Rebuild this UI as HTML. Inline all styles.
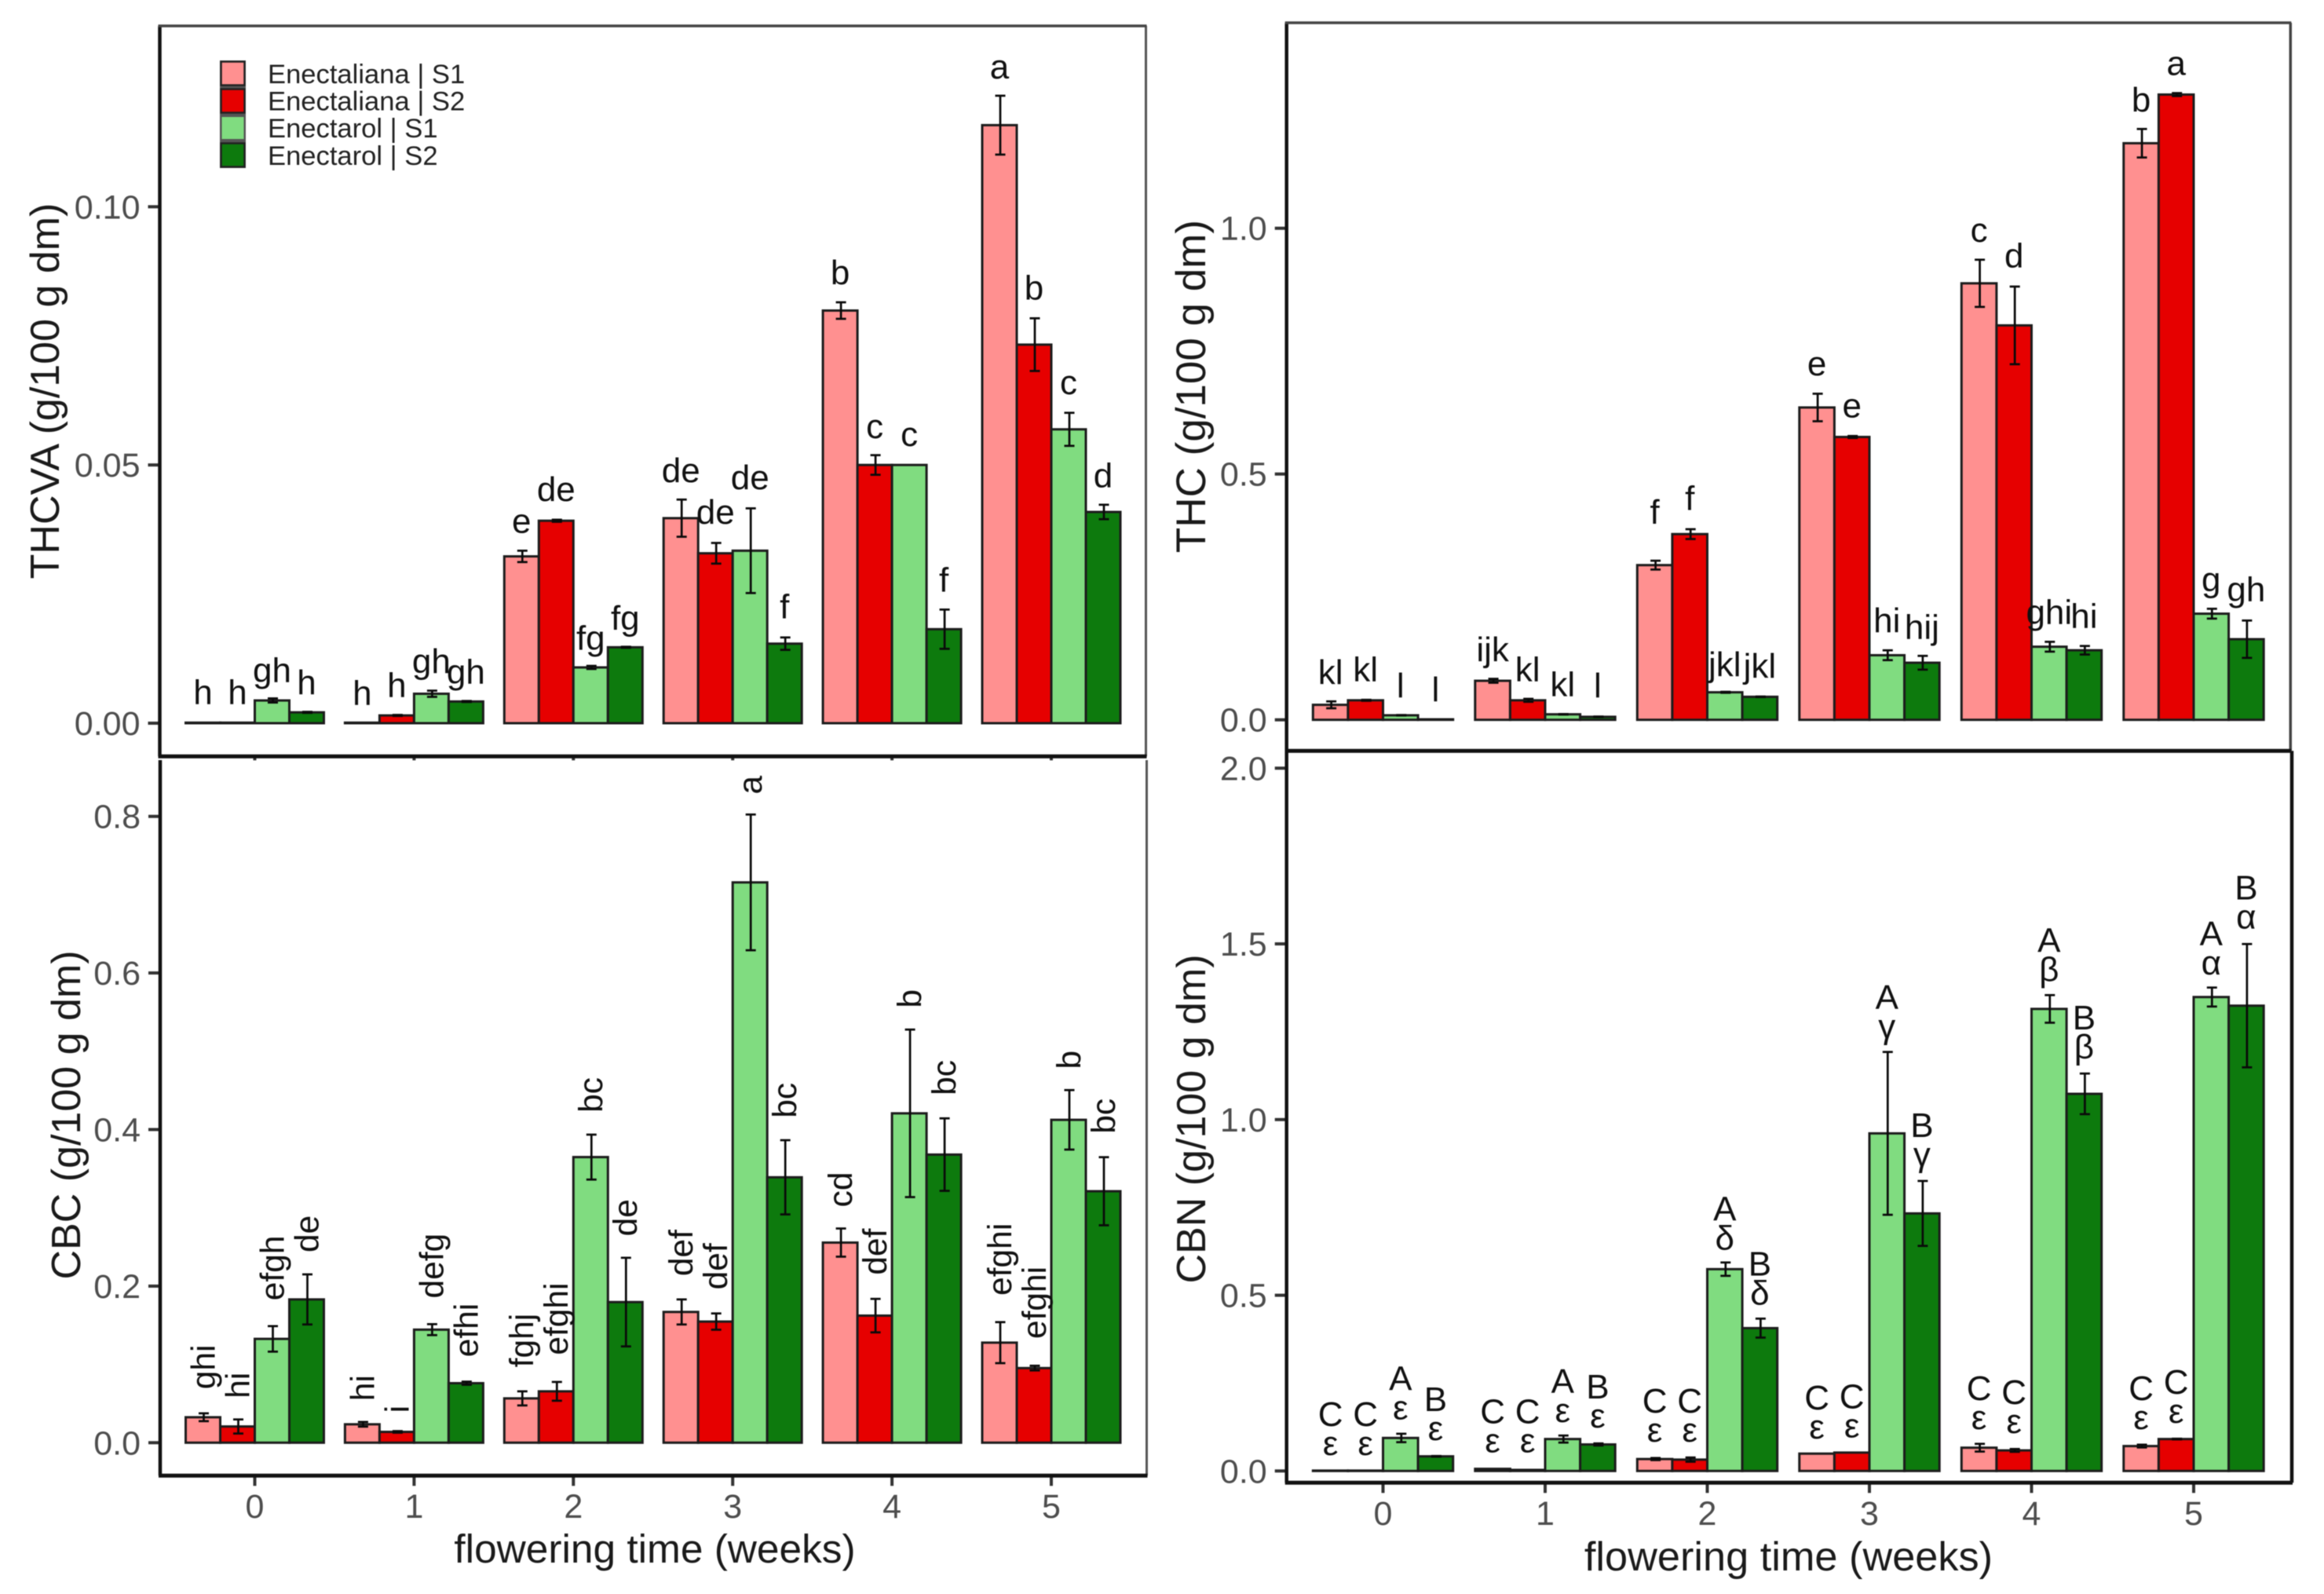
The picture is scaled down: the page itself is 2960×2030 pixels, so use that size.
<!DOCTYPE html>
<html lang="en">
<head>
<meta charset="utf-8">
<title>Cannabinoid content over flowering time</title>
<style>
  html, body { margin: 0; padding: 0; background: #fff; }
  svg { display: block; filter: blur(0.6px); font-family: "Liberation Sans", Arial, sans-serif; }
</style>
</head>
<body>
<svg id="figure" xmlns="http://www.w3.org/2000/svg" width="2960" height="2030" viewBox="0 0 2960 2030">
  <rect x="0" y="0" width="2960" height="2030" fill="#ffffff"/>

  <text x="75" y="498" transform="rotate(-90 75 498)" text-anchor="middle" font-size="52" fill="#1a1a1a">THCVA (g/100 g dm)</text>
  <text x="102" y="1420" transform="rotate(-90 102 1420)" text-anchor="middle" font-size="52" fill="#1a1a1a">CBC (g/100 g dm)</text>
  <text x="1535" y="492" transform="rotate(-90 1535 492)" text-anchor="middle" font-size="53" fill="#1a1a1a">THC (g/100 g dm)</text>
  <text x="1535" y="1425" transform="rotate(-90 1535 1425)" text-anchor="middle" font-size="52" fill="#1a1a1a">CBN (g/100 g dm)</text>
  <text x="834" y="1990" text-anchor="middle" font-size="51.4" fill="#1a1a1a">flowering time (weeks)</text>
  <text x="2278" y="2000" text-anchor="middle" font-size="52.3" fill="#1a1a1a">flowering time (weeks)</text>

  <g id="panels"></g>

  <g>
    <rect x="280" y="77" width="33" height="137" fill="#555555"/>
    <g>
      <rect x="281.5" y="78.5" width="30" height="30" fill="#ff9090" stroke="#222" stroke-width="2.5"/>
      <text x="341" y="106" font-size="34.6" fill="#222">Enectaliana | S1</text>
    </g>
    <g>
      <rect x="281.5" y="113.5" width="30" height="30" fill="#e60000" stroke="#222" stroke-width="2.5"/>
      <text x="341" y="140.7" font-size="34.6" fill="#222">Enectaliana | S2</text>
    </g>
    <g>
      <rect x="281.5" y="148" width="30" height="30" fill="#80dc80" stroke="#555" stroke-width="2"/>
      <text x="341" y="175" font-size="34.6" fill="#222">Enectarol | S1</text>
    </g>
    <g>
      <rect x="281.5" y="182.5" width="30" height="30" fill="#0d7a0d" stroke="#222" stroke-width="2.5"/>
      <text x="341" y="210" font-size="34.6" fill="#222">Enectarol | S2</text>
    </g>
  </g>
</svg>

<script>
// Shared categories
const weeks = [0, 1, 2, 3, 4, 5];
const seriesNames = ['enectaliana-s1', 'enectaliana-s2', 'enectarol-s1', 'enectarol-s2'];
const seriesColors = ['#ff9090', '#e60000', '#80dc80', '#0d7a0d'];

// THCVA: each row is one week, columns follow seriesNames
const thcvaTicks = [0, 0.05, 0.10];
const thcvaTickLabels = ['0.00', '0.05', '0.10'];
const thcvaValues = [
  [0.0001, 0.0001, 0.0044, 0.0021],
  [0.0001, 0.0015, 0.0057, 0.0042],
  [0.0323, 0.0392, 0.0108, 0.0147],
  [0.0397, 0.0329, 0.0334, 0.0154],
  [0.0799, 0.0500, 0.0500, 0.0182],
  [0.1158, 0.0733, 0.0569, 0.0409]
];
const thcvaErrors = [
  [0, 0, 0.0004, 0.0001],
  [0, 0.0001, 0.0006, 0.0001],
  [0.0011, 0.0002, 0.0003, 0.0001],
  [0.0036, 0.0020, 0.0082, 0.0012],
  [0.0016, 0.0019, 0, 0.0038],
  [0.0057, 0.0051, 0.0032, 0.0014]
];
const thcvaLetters = [
  ['h', 'h', 'gh', 'h'],
  ['h', 'h', 'gh', 'gh'],
  ['e', 'de', 'fg', 'fg'],
  ['de', 'de', 'de', 'f'],
  ['b', 'c', 'c', 'f'],
  ['a', 'b', 'c', 'd']
];
const thcvaLetterHeights = [
  [0.0037, 0.0037, 0.0080, 0.0056],
  [0.0036, 0.0051, 0.0097, 0.0077],
  [0.0369, 0.0430, 0.0142, 0.0181],
  [0.0467, 0.0386, 0.0453, 0.0203],
  [0.0850, 0.0552, 0.0537, 0.0255],
  [0.1248, 0.0820, 0.0637, 0.0457]
];

// CBC
const cbcTicks = [0, 0.2, 0.4, 0.6, 0.8];
const cbcTickLabels = ['0.0', '0.2', '0.4', '0.6', '0.8'];
const cbcValues = [
  [0.0325, 0.0207, 0.1326, 0.1830],
  [0.0235, 0.0138, 0.1444, 0.0760],
  [0.0566, 0.0656, 0.3648, 0.1796],
  [0.1670, 0.1547, 0.7157, 0.3390],
  [0.2556, 0.1623, 0.4207, 0.3680],
  [0.1278, 0.0953, 0.4124, 0.3212]
];
const cbcErrors = [
  [0.0050, 0.0090, 0.0163, 0.0320],
  [0.0030, 0.0010, 0.0070, 0.0020],
  [0.0090, 0.0120, 0.0287, 0.0566],
  [0.0160, 0.0104, 0.0867, 0.0474],
  [0.0180, 0.0214, 0.1070, 0.0463],
  [0.0262, 0.0030, 0.0380, 0.0435]
];
const cbcLetters = [
  ['ghi', 'hi', 'efgh', 'de'],
  ['hi', 'i', 'defg', 'efhi'],
  ['fghj', 'efghi', 'bc', 'de'],
  ['def', 'def', 'a', 'bc'],
  ['cd', 'def', 'b', 'bc'],
  ['efghi', 'efghi', 'b', 'bc']
];
const cbcLetterHeights = [
  [0.0967, 0.0732, 0.2231, 0.2667],
  [0.0698, 0.0428, 0.2259, 0.1437],
  [0.1306, 0.1582, 0.4442, 0.2874],
  [0.2425, 0.2252, 0.8401, 0.4373],
  [0.3233, 0.2439, 0.5672, 0.4663],
  [0.2342, 0.1789, 0.4891, 0.4173]
];

// THC
const thcTicks = [0, 0.5, 1.0];
const thcTickLabels = ['0.0', '0.5', '1.0'];
const thcValues = [
  [0.0305, 0.0397, 0.0092, 0.0010],
  [0.0794, 0.0397, 0.0112, 0.0061],
  [0.3147, 0.3778, 0.0560, 0.0468],
  [0.6354, 0.5754, 0.1314, 0.1161],
  [0.8880, 0.8024, 0.1487, 0.1415],
  [1.1730, 1.2720, 0.2159, 0.1640]
];
const thcErrors = [
  [0.0070, 0.0010, 0.0005, 0],
  [0.0040, 0.0030, 0.0005, 0.0005],
  [0.0090, 0.0100, 0.0010, 0.0005],
  [0.0280, 0.0020, 0.0100, 0.0140],
  [0.0480, 0.0790, 0.0100, 0.0087],
  [0.0290, 0.0030, 0.0100, 0.0380]
];
const thcLetters = [
  ['kl', 'kl', 'l', 'l'],
  ['ijk', 'kl', 'kl', 'l'],
  ['f', 'f', 'jkl', 'jkl'],
  ['e', 'e', 'hi', 'hij'],
  ['c', 'd', 'ghi', 'hi'],
  ['b', 'a', 'g', 'gh']
];
const thcLetterHeights = [
  [0.0733, 0.0784, 0.0458, 0.0377],
  [0.1191, 0.0784, 0.0479, 0.0458],
  [0.3992, 0.4267, 0.0886, 0.0855],
  [0.7006, 0.6151, 0.1782, 0.1650],
  [0.9725, 0.9206, 0.1955, 0.1874],
  [1.2373, 1.3116, 0.2617, 0.2413]
];

// CBN
const cbnTicks = [0, 0.5, 1.0, 1.5, 2.0];
const cbnTickLabels = ['0.0', '0.5', '1.0', '1.5', '2.0'];
const cbnValues = [
  [0.0010, 0.0010, 0.0939, 0.0416],
  [0.0060, 0.0030, 0.0908, 0.0754],
  [0.0339, 0.0323, 0.5743, 0.4065],
  [0.0493, 0.0523, 0.9607, 0.7329],
  [0.0662, 0.0585, 1.3149, 1.0732],
  [0.0708, 0.0908, 1.3487, 1.3241]
];
const cbnErrors = [
  [0, 0, 0.0120, 0.0010],
  [0, 0, 0.0100, 0.0030],
  [0.0030, 0.0060, 0.0190, 0.0270],
  [0, 0, 0.2317, 0.0924],
  [0.0110, 0.0040, 0.0393, 0.0578],
  [0.0040, 0.0010, 0.0270, 0.1755]
];
const cbnLetters = [
  ['C', 'C', 'A', 'B'],
  ['C', 'C', 'A', 'B'],
  ['C', 'C', 'A', 'B'],
  ['C', 'C', 'A', 'B'],
  ['C', 'C', 'A', 'B'],
  ['C', 'C', 'A', 'B']
];
const cbnGreekLetters = [
  ['ε', 'ε', 'ε', 'ε'],
  ['ε', 'ε', 'ε', 'ε'],
  ['ε', 'ε', 'δ', 'δ'],
  ['ε', 'ε', 'γ', 'γ'],
  ['ε', 'ε', 'β', 'β'],
  ['ε', 'ε', 'α', 'α']
];
const cbnLetterHeights = [
  [0.1278, 0.1278, 0.2294, 0.1709],
  [0.1355, 0.1355, 0.2217, 0.2062],
  [0.1663, 0.1663, 0.7129, 0.5558],
  [0.1755, 0.1786, 1.3148, 0.9500],
  [0.2017, 0.1909, 1.4765, 1.2563],
  [0.2017, 0.2202, 1.4951, 1.6259]
];

const SVG_NS = 'http://www.w3.org/2000/svg';
const root = document.getElementById('panels');

function make(tag, attrs, parent) {
  const el = document.createElementNS(SVG_NS, tag);
  for (const k in attrs) el.setAttribute(k, attrs[k]);
  parent.appendChild(el);
  return el;
}

function drawPanel(p) {
  const yScale = v => p.zeroY - v * p.pxPerUnit;
  const xTick = w => p.firstTick + w * p.pitch;
  const barLeft = (w, s) => xTick(w) - 2 * p.barW + s * p.barW;
  const barCenter = (w, s) => barLeft(w, s) + p.barW / 2;

  const g = make('g', {}, root);
  
  

  p.ticks.forEach((t, i) => {
    const tick = make('line', { x1: p.left - 15, x2: p.left, y1: yScale(t), y2: yScale(t), stroke: '#333', 'stroke-width': 4 }, g);
    
    
    const lab = make('text', { x: p.left - 25, y: yScale(t) + 15, 'text-anchor': 'end', 'font-size': 43, fill: '#4d4d4d' }, g);
    
    
    lab.textContent = p.tickLabels[i];
  });

  weeks.forEach((wk, w) => {
    const tick = make('line', { x1: xTick(w), x2: xTick(w), y1: p.bottom, y2: p.bottom + p.xTickLen, stroke: '#333', 'stroke-width': 4 }, g);
    
    
    if (p.showXLabels) {
      const lab = make('text', { x: xTick(w), y: p.xLabelY, 'text-anchor': 'middle', 'font-size': 43, fill: '#4d4d4d' }, g);
      
      
      lab.textContent = String(wk);
    }
  });

  p.values.forEach((row, w) => {
    row.forEach((v, s) => {
      const bar = make('rect', {
        x: barLeft(w, s), y: yScale(v), width: p.barW, height: Math.max(0, yScale(0) - yScale(v)),
        fill: seriesColors[s], stroke: '#1c1c1c', 'stroke-width': 3
      }, g);
      
      
    });
  });

  p.values.forEach((row, w) => {
    row.forEach((v, s) => {
      const e = p.errors[w][s];
      if (e <= 0) return;
      const cx = barCenter(w, s) + 1;
      const eg = make('g', { stroke: '#0a0a0a', 'stroke-width': 2.7, fill: 'none' }, g);
      
      
      make('line', { x1: cx, x2: cx, y1: yScale(v + e), y2: yScale(v - e) }, eg);
      make('line', { x1: cx - 6.5, x2: cx + 6.5, y1: yScale(v + e), y2: yScale(v + e) }, eg);
      make('line', { x1: cx - 6.5, x2: cx + 6.5, y1: yScale(v - e), y2: yScale(v - e) }, eg);
    });
  });

  p.letters.forEach((row, w) => {
    row.forEach((txt, s) => {
      const cx = barCenter(w, s);
      const y = yScale(p.letterHeights[w][s]);
      const attrs = p.rotateLetters
        ? { x: cx, y: y, dy: '0.35em', transform: 'rotate(-90 ' + cx + ' ' + y + ')', 'text-anchor': 'middle', 'font-size': 42.5, fill: '#111' }
        : { x: cx, y: y, 'text-anchor': 'middle', 'font-size': 44, fill: '#111' };
      const t = make('text', attrs, g);
      
      
      t.textContent = txt;
      if (p.greek) {
        const gt = make('text', { x: cx, y: y + 37, 'text-anchor': 'middle', 'font-size': 44, fill: '#111' }, g);
        
        
        gt.textContent = p.greek[w][s];
      }
    });
  });

  const frame = [
    ['left', p.left, p.top, p.left, p.bottom, '#111', 4.5],
    ['right', p.right, p.top, p.right, p.bottom, p.rightColor, p.rightWidth],
    ['bottom', p.left - 2, p.bottom, p.right + 1, p.bottom, p.bottomColor, p.bottomWidth]
  ];
  if (p.topWidth > 0) frame.push(['top', p.left - 2, p.top, p.right + 1, p.top, p.topColor, p.topWidth]);
  frame.forEach(f => {
    const line = make('line', { x1: f[1], y1: f[2], x2: f[3], y2: f[4], stroke: f[5], 'stroke-width': f[6] }, g);
    
    
  });
}

drawPanel({
  id: 'thcva', ticks: thcvaTicks, tickLabels: thcvaTickLabels, values: thcvaValues, errors: thcvaErrors,
  letters: thcvaLetters, letterHeights: thcvaLetterHeights,
  zeroY: 921, pxPerUnit: 6577, firstTick: 324.5, pitch: 202.9, barW: 44,
  left: 203.5, right: 1459.5, top: 33, bottom: 963.3, xTickLen: 5, showXLabels: false,
  topColor: '#444', topWidth: 3.5, rightColor: '#555', rightWidth: 3, bottomColor: '#111', bottomWidth: 5
});
drawPanel({
  id: 'cbc', ticks: cbcTicks, tickLabels: cbcTickLabels, values: cbcValues, errors: cbcErrors,
  letters: cbcLetters, letterHeights: cbcLetterHeights, rotateLetters: true,
  zeroY: 1837.3, pxPerUnit: 997, firstTick: 324.5, pitch: 202.9, barW: 44,
  left: 204, right: 1460.5, top: 968, bottom: 1879.3, xTickLen: 13, xLabelY: 1933, showXLabels: true,
  topWidth: 0, rightColor: '#555', rightWidth: 3, bottomColor: '#111', bottomWidth: 5
});
drawPanel({
  id: 'thc', ticks: thcTicks, tickLabels: thcTickLabels, values: thcValues, errors: thcErrors,
  letters: thcLetters, letterHeights: thcLetterHeights,
  zeroY: 916.7, pxPerUnit: 626, firstTick: 1761.5, pitch: 206.5, barW: 44.6,
  left: 1638.7, right: 2917.3, top: 29, bottom: 956.3, xTickLen: 0, showXLabels: false,
  topColor: '#444', topWidth: 3.5, rightColor: '#444', rightWidth: 3.5, bottomColor: '#111', bottomWidth: 5
});
drawPanel({
  id: 'cbn', ticks: cbnTicks, tickLabels: cbnTickLabels, values: cbnValues, errors: cbnErrors,
  letters: cbnLetters, letterHeights: cbnLetterHeights, greek: cbnGreekLetters,
  zeroY: 1873.3, pxPerUnit: 447.5, firstTick: 1761.5, pitch: 206.5, barW: 44.6,
  left: 1638.7, right: 2919, top: 956.3, bottom: 1888.3, xTickLen: 13, xLabelY: 1942, showXLabels: true,
  topWidth: 0, rightColor: '#111', rightWidth: 4.5, bottomColor: '#111', bottomWidth: 5
});
</script>
</body>
</html>
